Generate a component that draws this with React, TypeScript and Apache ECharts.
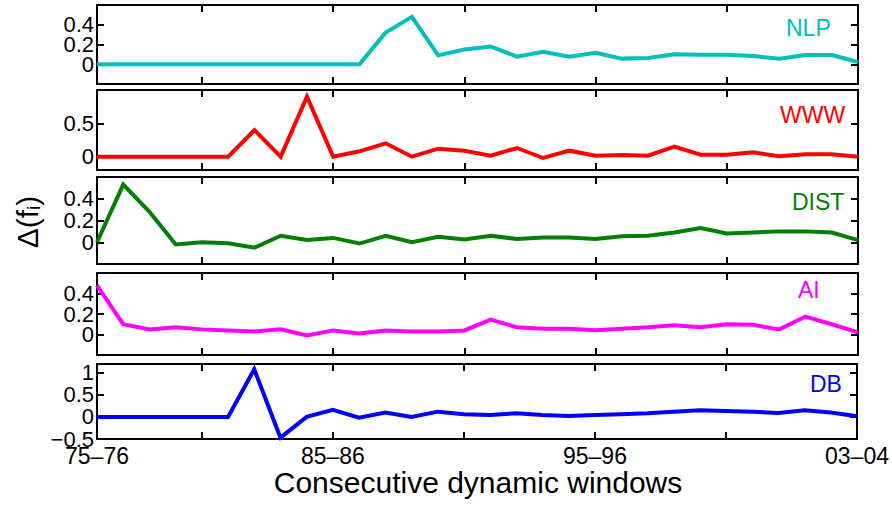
import React, { useEffect, useRef } from 'react';
import * as echarts from 'echarts';

// ---- data ----
const windowIndex = [1, 2, 3, 4, 5, 6, 7, 8, 9, 10, 11, 12, 13, 14, 15, 16, 17, 18, 19, 20, 21, 22, 23, 24, 25, 26, 27, 28, 29, 30];
const xTickIdx = [4, 9, 14, 19, 24];
const xLabelIdx = [0, 9, 19, 29];
const xLabelText = ['75–76', '85–86', '95–96', '03–04'];

const panelNames = ['NLP', 'WWW', 'DIST', 'AI', 'DB'];
const panelColors = ['#00BFBF', '#FF0000', '#008000', '#FF00FF', '#0000FF'];

const nlp = [0, 0, 0, 0, 0, 0, 0, 0, 0, 0, 0, 0.32, 0.48, 0.09, 0.15, 0.18, 0.077, 0.127, 0.077, 0.117, 0.057, 0.063, 0.1, 0.097, 0.097, 0.083, 0.057, 0.093, 0.093, 0.023];
const www = [0, 0, 0, 0, 0, 0, 0.4, 0, 0.9, 0, 0.08, 0.2, 0, 0.12, 0.09, 0.015, 0.13, -0.02, 0.09, 0.015, 0.025, 0.015, 0.15, 0.03, 0.03, 0.066, 0.005, 0.036, 0.036, 0.0];
const dist = [0, 0.53, 0.28, -0.02, 0, -0.01, -0.05, 0.06, 0.02, 0.04, -0.012, 0.06, 0, 0.05, 0.025, 0.06, 0.03, 0.044, 0.044, 0.03, 0.056, 0.06, 0.09, 0.13, 0.08, 0.09, 0.1, 0.1, 0.09, 0.02];
const ai = [0.48, 0.1, 0.05, 0.07, 0.05, 0.04, 0.03, 0.05, -0.01, 0.04, 0.01, 0.04, 0.03, 0.03, 0.04, 0.146, 0.07, 0.055, 0.055, 0.042, 0.055, 0.07, 0.09, 0.07, 0.1, 0.094, 0.05, 0.175, 0.1, 0.02];
const db = [0, 0, 0, 0, 0, 0, 1.08, -0.47, 0, 0.16, -0.015, 0.1, 0, 0.12, 0.06, 0.045, 0.083, 0.045, 0.023, 0.045, 0.06, 0.083, 0.12, 0.15, 0.136, 0.12, 0.09, 0.15, 0.1, 0.015];
const panelData = [nlp, www, dist, ai, db];

const yMins = [-0.2, -0.2, -0.2, -0.2, -0.5];
const yMaxs = [0.6, 1, 0.6, 0.6, 1.2];
// regular tick step (null = use the explicit tick list instead)
const yIntervals = [0.2, null, 0.2, 0.2, null];
const yTicks = [[0, 0.2, 0.4], [0, 0.5], [0, 0.2, 0.4], [0, 0.2, 0.4], [-0.5, 0, 0.5, 1]];

const xAxisTitle = 'Consecutive dynamic windows';

// ---- layout ----
const FONT = '"Liberation Sans", Arial, Helvetica, sans-serif';
const gridTops = [5, 90, 177, 273, 364];
const gridHeights = [79, 80, 87, 82, 75];
const gridLeft = 97;
const gridWidth = 761;
const nameX = [786, 780, 792, 798, 810];
const nameY = [28, 115, 202, 290, 384];

const fmtNum = (v: number) => String(Math.round(v * 1000) / 1000).replace('-', '−');

export default function App() {
  const ref = useRef<HTMLDivElement>(null);
  useEffect(() => {
    if (!ref.current) return;
    const chart = echarts.init(ref.current, undefined, { renderer: 'svg' });
    const axisLine = { show: true, onZero: false, lineStyle: { color: '#000', width: 2 } };
    const grid: any[] = [];
    const xAxis: any[] = [];
    const yAxis: any[] = [];
    const series: any[] = [];
    const graphic: any[] = [];
    panelNames.forEach((name, p) => {
      grid.push({ left: gridLeft, width: gridWidth, top: gridTops[p], height: gridHeights[p], containLabel: false });
      const isLast = p === panelNames.length - 1;
      ['bottom', 'top'].forEach((pos) => {
        xAxis.push({
          type: 'category',
          gridIndex: p,
          position: pos,
          data: windowIndex,
          boundaryGap: false,
          axisLine,
          axisTick: {
            show: true,
            inside: true,
            length: 7,
            interval: (i: number) => xTickIdx.includes(i),
            lineStyle: { color: '#000', width: 2 },
          },
          axisLabel: {
            show: isLast && pos === 'bottom',
            interval: (i: number) => xLabelIdx.includes(i),
            formatter: (_v: any, i: number) => {
              const k = xLabelIdx.indexOf(i);
              return k >= 0 ? xLabelText[k] : '';
            },
            color: '#000',
            fontFamily: FONT,
            fontSize: 23,
            lineHeight: 20,
            margin: 7,
            alignMinLabel: 'center',
            alignMaxLabel: 'center',
          },
          splitLine: { show: false },
        });
      });
      const iv = yIntervals[p];
      const shown = yTicks[p];
      ['left', 'right'].forEach((pos) => {
        yAxis.push({
          type: 'value',
          gridIndex: p,
          position: pos,
          min: yMins[p],
          max: yMaxs[p],
          ...(iv ? { interval: iv } : {}),
          axisLine,
          axisTick: {
            show: true,
            inside: true,
            length: 7,
            ...(iv ? {} : { customValues: shown }),
            lineStyle: { color: '#000', width: 2 },
          },
          axisLabel: {
            show: pos === 'left',
            ...(iv ? {} : { customValues: shown }),
            formatter: (v: number) => (shown.some((t) => Math.abs(t - v) < 1e-6) ? fmtNum(v) : ''),
            color: '#000',
            fontFamily: FONT,
            fontSize: 22,
            lineHeight: 18,
            margin: 3,
            showMinLabel: true,
            showMaxLabel: true,
          },
          splitLine: { show: false },
        });
      });
      series.push({
        type: 'line',
        name,
        xAxisIndex: 2 * p,
        yAxisIndex: 2 * p,
        data: panelData[p],
        showSymbol: false,
        symbol: 'none',
        lineStyle: { color: panelColors[p], width: 4, join: 'miter' },
      });
      graphic.push({
        type: 'text',
        x: nameX[p],
        y: nameY[p],
        style: { text: name, fill: panelColors[p], font: `23px ${FONT}`, textAlign: 'left', textVerticalAlign: 'middle' },
      });
    });
    graphic.push({
      type: 'text',
      x: 478,
      y: 482,
      style: { text: xAxisTitle, fill: '#000', font: `30px ${FONT}`, textAlign: 'center', textVerticalAlign: 'middle' },
    });
    graphic.push({
      type: 'text',
      x: 27,
      y: 222,
      rotation: Math.PI / 2,
      style: {
        text: '{a|Δ(f}{s|i}{a|)}',
        textAlign: 'center',
        textVerticalAlign: 'middle',
        fill: '#000',
        rich: {
          a: { fontSize: 30, fontFamily: FONT, fill: '#000', lineHeight: 40, verticalAlign: 'middle' },
          s: { fontSize: 19, fontFamily: FONT, fill: '#000', lineHeight: 40, verticalAlign: 'bottom', padding: [0, 0, 4, 0] },
        },
      },
    });
    chart.setOption({ animation: false, backgroundColor: '#fff', grid, xAxis, yAxis, series, graphic });
    return () => chart.dispose();
  }, []);
  return <div ref={ref} style={{ position: 'fixed', left: 0, top: 0, width: 892, height: 505 }} />;
}
